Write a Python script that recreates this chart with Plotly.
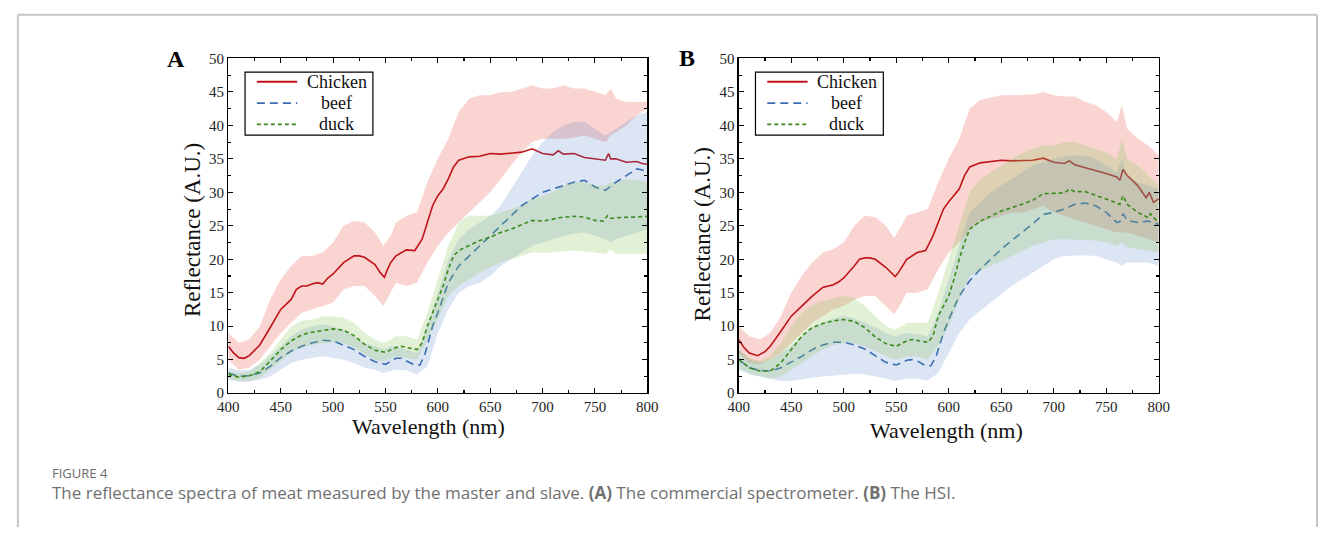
import plotly.graph_objects as go

W, H = 1330, 535

# ---------------- Panel A (commercial spectrometer) ----------------
A_chicken_wl = [400, 405, 410, 415, 420, 430, 440, 450, 460, 465, 470, 475, 480, 485, 490, 495, 500, 510, 520, 525, 530, 540, 545, 549, 552, 555, 560, 570, 578, 585, 590, 595, 600, 605, 610, 615, 620, 630, 640, 650, 660, 670, 680, 690, 700, 710, 715, 720, 730, 740, 750, 760, 763, 765, 770, 780, 790, 795, 800]
A_chicken = [7.0, 6.0, 5.3, 5.2, 5.6, 7.2, 9.8, 12.5, 14.0, 15.5, 16.0, 16.0, 16.3, 16.5, 16.3, 17.2, 17.8, 19.5, 20.5, 20.5, 20.3, 19.2, 18.0, 17.3, 18.5, 19.5, 20.5, 21.4, 21.3, 23.0, 25.5, 28.0, 29.5, 30.5, 32.0, 33.8, 34.8, 35.3, 35.4, 35.8, 35.7, 35.8, 36.0, 36.5, 35.8, 35.6, 36.2, 35.7, 35.8, 35.2, 35.0, 34.8, 35.8, 35.0, 35.0, 34.5, 34.6, 34.3, 34.2]

A_beef_wl = [400, 410, 420, 430, 440, 450, 460, 470, 480, 490, 500, 510, 520, 530, 540, 550, 560, 565, 570, 578, 583, 588, 595, 600, 610, 620, 630, 640, 650, 660, 670, 680, 690, 700, 710, 720, 730, 740, 750, 760, 770, 780, 790, 800]
A_beef = [3.0, 2.5, 2.6, 3.0, 4.0, 5.3, 6.3, 7.0, 7.5, 7.9, 7.8, 7.2, 6.5, 5.5, 4.7, 4.3, 5.2, 5.2, 4.8, 4.2, 4.2, 6.0, 10.0, 12.0, 16.5, 19.0, 20.5, 22.0, 23.5, 25.0, 26.5, 28.0, 29.0, 30.0, 30.5, 31.0, 31.5, 31.8, 30.8, 30.3, 31.5, 32.5, 33.5, 33.2]

A_duck_wl = [400, 410, 420, 430, 440, 450, 460, 470, 480, 490, 500, 510, 520, 530, 540, 550, 560, 565, 570, 580, 585, 590, 595, 600, 605, 610, 615, 620, 630, 640, 650, 660, 670, 680, 690, 700, 710, 720, 730, 740, 750, 758, 762, 765, 770, 780, 790, 800]
A_duck = [2.8, 2.4, 2.6, 3.2, 4.8, 6.5, 7.8, 8.7, 9.1, 9.4, 9.6, 9.4, 8.6, 7.3, 6.4, 6.1, 6.8, 7.0, 6.8, 6.5, 7.5, 10.0, 12.0, 14.0, 16.0, 18.5, 20.5, 21.3, 22.0, 22.8, 23.3, 24.0, 24.5, 25.2, 25.8, 25.7, 26.0, 26.3, 26.4, 26.3, 25.8, 25.7, 26.5, 26.1, 26.2, 26.3, 26.4, 26.4]

# wavelengths at which the band edges were read (shared by all bands)
band_wl = [400, 410, 420, 430, 440, 450, 460, 470, 480, 490, 500, 510, 520, 530, 540, 548, 555, 560, 570, 580, 590, 600, 610, 620, 630, 640, 650, 660, 670, 680, 690, 700, 710, 720, 730, 740, 750, 760, 765, 770, 780, 790, 800]

A_chicken_up = [9, 7.5, 8, 10, 14, 17, 19, 20.5, 20.5, 21, 22.5, 25, 25.7, 25.5, 24, 22, 23.5, 25.5, 26.5, 27, 31.5, 35, 38, 42, 44, 44.5, 44.5, 45, 45, 45.5, 46, 45.5, 45.5, 46, 45.5, 45.5, 45, 44.5, 45.5, 44, 43.5, 43.5, 43.5]
A_chicken_lo = [5, 3.5, 3.8, 5, 7, 9, 10.5, 12, 12.5, 13, 13.5, 15.5, 16, 16, 14.5, 13, 15, 16.5, 16, 16.5, 19.5, 22, 24, 25.5, 27, 28.5, 30, 32, 34, 36, 37.5, 38, 38, 38, 38.2, 38.5, 38, 37.5, 38.5, 39, 40, 41.5, 42.5]

A_beef_up = [3.8, 3.4, 3.5, 4.2, 5.5, 7, 8.5, 9.5, 10, 10.3, 10, 9.5, 8.5, 7.5, 7, 6.5, 7, 7, 6.5, 6, 10, 15, 20, 23, 24.5, 25.5, 26.5, 28, 30.5, 33, 35.5, 37.5, 39, 40, 40.5, 40.5, 39.5, 38.5, 39, 39.5, 40.5, 41.5, 42]
A_beef_lo = [2, 1.7, 1.7, 2, 2.5, 3.5, 4.5, 5, 5.3, 5.5, 5.3, 5, 4.5, 3.8, 3.5, 3, 3.3, 3.5, 3.4, 2.8, 4, 9, 12.5, 15, 16, 16.5, 17.5, 19, 20, 21, 22, 22.5, 23, 23.5, 23.8, 24, 23.5, 23, 22.5, 23, 23.5, 24, 24.5]

A_duck_up = [3.3, 3, 3.2, 4.5, 6, 8, 10, 10.8, 11, 11.5, 11.5, 11.3, 10.5, 9, 8, 7.5, 8, 8.5, 8.5, 8, 12, 17, 22, 25.5, 26.5, 26.5, 26.5, 27, 27.5, 28, 29, 29.5, 30, 31, 31.5, 31.5, 31, 31, 31.5, 31.5, 32, 31.8, 31.5]
A_duck_lo = [2.2, 1.8, 1.8, 2.3, 3.5, 4.8, 6, 6.8, 7.2, 7.5, 7.6, 7.4, 6.8, 5.8, 5, 4.8, 5.2, 5.5, 5.3, 5, 8, 11, 14.5, 16, 17, 18, 18.8, 19.5, 20, 20.5, 21, 21, 21, 21.2, 21.3, 21.2, 21, 20.8, 21.5, 20.8, 20.8, 20.8, 20.8]

# ---------------- Panel B (HSI) ----------------
B_chicken_wl = [400, 405, 410, 418, 425, 430, 440, 450, 460, 470, 480, 490, 495, 500, 510, 515, 520, 525, 530, 540, 549, 552, 560, 570, 578, 585, 590, 595, 600, 610, 615, 620, 630, 640, 650, 660, 670, 680, 690, 700, 710, 715, 720, 730, 740, 750, 760, 763, 766, 770, 780, 788, 791, 795, 800]
B_chicken = [8.0, 6.8, 6.0, 5.6, 6.2, 7.0, 9.2, 11.5, 13.0, 14.5, 15.8, 16.2, 16.6, 17.2, 19.0, 20.0, 20.2, 20.2, 20.0, 18.8, 17.4, 18.0, 20.0, 21.0, 21.3, 23.5, 25.5, 27.5, 28.6, 30.5, 32.5, 33.8, 34.4, 34.6, 34.8, 34.7, 34.8, 34.8, 35.1, 34.5, 34.3, 34.7, 34.1, 33.7, 33.2, 32.8, 32.3, 31.8, 33.4, 32.5, 31.0, 29.2, 30.0, 28.5, 29.0]

B_beef_wl = [400, 410, 420, 430, 440, 450, 460, 470, 480, 490, 500, 510, 520, 530, 540, 550, 560, 565, 570, 578, 583, 588, 595, 600, 610, 620, 630, 640, 650, 660, 670, 680, 690, 700, 710, 720, 730, 740, 750, 760, 763, 766, 770, 780, 790, 795, 800]
B_beef = [5.0, 3.8, 3.4, 3.3, 3.8, 4.6, 5.5, 6.5, 7.2, 7.6, 7.6, 7.2, 6.6, 5.6, 4.6, 4.2, 4.9, 5.0, 4.8, 4.1, 4.1, 5.5, 9.0, 11.0, 14.5, 16.8, 18.5, 20.0, 21.5, 22.8, 24.0, 25.3, 26.7, 27.0, 27.5, 28.2, 28.4, 28.0, 27.0, 25.5, 25.6, 26.8, 25.8, 25.5, 25.7, 25.5, 25.2]

B_duck_wl = [400, 410, 420, 430, 440, 450, 460, 470, 480, 490, 500, 510, 520, 530, 540, 550, 560, 565, 570, 580, 585, 590, 595, 600, 605, 610, 615, 620, 630, 640, 650, 660, 670, 680, 690, 700, 710, 715, 720, 730, 740, 750, 760, 763, 766, 770, 780, 790, 792, 800]
B_duck = [5.0, 3.8, 3.3, 3.3, 4.5, 6.5, 8.5, 9.8, 10.4, 10.8, 11.0, 10.7, 9.8, 8.4, 7.4, 7.0, 7.8, 8.0, 7.9, 7.6, 8.5, 11.5, 13.0, 14.5, 17.0, 20.0, 22.5, 24.5, 25.7, 26.5, 27.2, 27.7, 28.3, 28.8, 29.8, 29.9, 29.9, 30.5, 30.1, 30.1, 29.6, 29.0, 28.4, 28.2, 29.5, 28.2, 27.0, 26.2, 26.8, 25.4]

B_chicken_up = [10, 8.5, 8, 9, 11.5, 15, 17.5, 19.5, 21, 21.5, 22.5, 25, 26.5, 26.3, 25, 23.2, 25, 26.5, 27, 27.5, 31.5, 35, 38, 42.5, 43.8, 44.2, 44.5, 44.5, 44.6, 44.6, 45, 44.5, 44.3, 44.3, 43.5, 43, 42, 40.5, 43, 39.5, 38, 37, 35.5]
B_chicken_lo = [6, 4.5, 4.3, 5, 6, 7.5, 9, 10.5, 11.5, 12.5, 13, 14, 14.5, 14.5, 13, 11.8, 13.5, 15, 15, 15.5, 18.5, 21, 22.5, 24.5, 25.5, 26, 26.5, 27, 27, 27.5, 28, 27, 26.5, 26, 25.5, 25, 24.5, 24, 24, 24, 23.5, 23, 22.5]

B_beef_up = [6.5, 5, 4.5, 5, 6, 7, 8.5, 9.8, 10.5, 11.2, 11.5, 11.2, 10.5, 9.8, 9, 8.5, 8.8, 9, 8.8, 8.5, 12, 17, 22, 27, 28.5, 30, 31, 32, 33, 34, 34.5, 35, 35.3, 35.5, 35.5, 35, 34, 33, 35, 32.5, 31.5, 31, 30.5]
B_beef_lo = [3.5, 2.8, 2.5, 2.2, 1.8, 1.8, 2, 2.3, 2.5, 2.7, 2.8, 2.9, 2.8, 2.5, 2.2, 1.8, 2, 2.2, 2.2, 1.9, 3, 6, 9, 11, 12.3, 13.5, 14.8, 16, 17, 18, 19, 20, 20.5, 20.5, 20.6, 20.5, 20, 19.5, 19, 19.5, 19.5, 19.5, 19]

B_duck_up = [6.5, 5.3, 4.8, 5.5, 7.5, 10, 12, 13.2, 13.8, 14.2, 14.5, 14.2, 13, 11.5, 10, 9.5, 10, 10.5, 10.5, 10.5, 15, 20, 25, 30, 32, 33, 34, 35, 35.8, 36.5, 37, 37, 37.5, 37.5, 37, 36.5, 36, 35, 38, 35, 34, 32.5, 31]
B_duck_lo = [3.8, 3, 2.5, 2.2, 2.5, 3.5, 4.5, 5.5, 6.5, 7.2, 7.5, 7.4, 7, 6.3, 5.5, 5, 5.2, 5.5, 5.5, 5, 7, 10, 14, 17.5, 18.3, 19, 19.8, 20.5, 21.2, 22, 22.5, 23, 23, 23, 22.9, 22.8, 22.5, 22, 22.5, 21.8, 21.5, 21.2, 21]

series_names = ["Chicken", "beef", "duck"]
line_colors = ["#c0141c", "#3a6cb4", "#3b8a1c"]
band_colors = ["rgba(238,112,100,0.30)", "rgba(80,125,200,0.20)", "rgba(140,200,90,0.25)"]
dashes = ["solid", "8px,5px", "4px,3px"]

SERIF = "Liberation Serif, Times New Roman, serif"


def px_x(p):
    return p / W


def px_y(p):
    return 1 - p / H


fig = go.Figure()

panels = [
    ("x", "y",
     [(A_chicken_wl, A_chicken, A_chicken_up, A_chicken_lo),
      (A_beef_wl, A_beef, A_beef_up, A_beef_lo),
      (A_duck_wl, A_duck, A_duck_up, A_duck_lo)]),
    ("x2", "y2",
     [(B_chicken_wl, B_chicken, B_chicken_up, B_chicken_lo),
      (B_beef_wl, B_beef, B_beef_up, B_beef_lo),
      (B_duck_wl, B_duck, B_duck_up, B_duck_lo)]),
]

for xa, ya, data in panels:
    for i, (wl, mean, up, lo) in enumerate(data):
        fig.add_trace(go.Scatter(
            x=band_wl + band_wl[::-1], y=up + lo[::-1],
            fill="toself", fillcolor=band_colors[i], line=dict(width=0),
            mode="lines", showlegend=False, hoverinfo="skip",
            xaxis=xa, yaxis=ya))
        fig.add_trace(go.Scatter(
            x=wl, y=mean, mode="lines", name=series_names[i],
            line=dict(color=line_colors[i], width=1.6, dash=dashes[i]),
            showlegend=False, xaxis=xa, yaxis=ya))

ydom = [px_y(397), px_y(52)]
axis_common = dict(
    showline=True, linecolor="black", linewidth=1.3, mirror="ticks",
    ticks="inside", ticklen=5, tickwidth=1.1, tickcolor="black",
    showgrid=False, zeroline=False,
    tickfont=dict(family=SERIF, size=15, color="#222"),
)
xcommon = dict(axis_common, range=[400, 800], dtick=50, tick0=400,
               minor=dict(ticks="inside", ticklen=3, dtick=25, tickcolor="black", showgrid=False))
ycommon = dict(axis_common, range=[0, 50], dtick=5, tick0=0,
               minor=dict(ticks="inside", ticklen=3, dtick=2.5, tickcolor="black", showgrid=False))

annotations = [
    dict(text="<b>A</b>", x=px_x(168), y=px_y(53), font=dict(family=SERIF, size=24, color="black")),
    dict(text="<b>B</b>", x=px_x(687), y=px_y(52), font=dict(family=SERIF, size=24, color="black")),
    dict(text="Wavelength (nm)", x=px_x(425), y=px_y(431), font=dict(family=SERIF, size=22, color="#111")),
    dict(text="Wavelength (nm)", x=px_x(951), y=px_y(436), font=dict(family=SERIF, size=22, color="#111")),
    dict(text="Reflectance (A.U.)", x=px_x(184), y=px_y(229), textangle=-90, font=dict(family=SERIF, size=23, color="#111")),
    dict(text="Reflectance (A.U.)", x=px_x(703), y=px_y(233), textangle=-90, font=dict(family=SERIF, size=23, color="#111")),
    dict(text="FIGURE 4", x=px_x(40), y=px_y(479), xanchor="left",
         font=dict(family="Open Sans", size=13, color="#6a6a6a")),
    dict(text="The reflectance spectra of meat measured by the master and slave. <b>(A)</b> The commercial spectrometer. <b>(B)</b> The HSI.",
         x=px_x(40), y=px_y(499), xanchor="left",
         font=dict(family="Open Sans", size=17, color="#707070")),
]

shapes = []

# legend boxes drawn for each panel (A at x0=238, B shifted by the panel offset)
legend_rows_y = [76, 98, 120]
for dx in (0, 519):
    shapes.append(dict(type="rect", xref="paper", yref="paper",
                       x0=px_x(238 + dx), x1=px_x(368 + dx), y0=px_y(131), y1=px_y(66),
                       line=dict(color="black", width=1.2), fillcolor="white", layer="above"))
    for i, name in enumerate(series_names):
        yy = legend_rows_y[i]
        shapes.append(dict(type="line", xref="paper", yref="paper",
                           x0=px_x(250 + dx), x1=px_x(291 + dx), y0=px_y(yy), y1=px_y(yy),
                           line=dict(color=line_colors[i], width=1.8, dash=dashes[i]), layer="above"))
        annotations.append(dict(text=name, x=px_x(331 + dx), y=px_y(yy),
                                font=dict(family=SERIF, size=18, color="#111")))

for a in annotations:
    a.update(xref="paper", yref="paper", showarrow=False)
    a.setdefault("xanchor", "center")
    a.setdefault("yanchor", "middle")

frame_col = "#c6c6c6"
shapes += [
    dict(type="line", xref="paper", yref="paper", x0=px_x(7), x1=px_x(7), y0=px_y(7), y1=0,
         line=dict(color=frame_col, width=2)),
    dict(type="line", xref="paper", yref="paper", x0=px_x(7), x1=px_x(1328), y0=px_y(7), y1=px_y(7),
         line=dict(color=frame_col, width=2)),
    dict(type="line", xref="paper", yref="paper", x0=px_x(1328), x1=px_x(1328), y0=px_y(7), y1=0,
         line=dict(color=frame_col, width=2)),
]

fig.update_layout(
    width=W, height=H,
    margin=dict(l=0, r=0, t=0, b=0),
    paper_bgcolor="white", plot_bgcolor="white",
    showlegend=False,
    xaxis=dict(xcommon, domain=[px_x(221), px_x(647)], anchor="y"),
    yaxis=dict(ycommon, domain=ydom, anchor="x"),
    xaxis2=dict(xcommon, domain=[px_x(740), px_x(1167)], anchor="y2"),
    yaxis2=dict(ycommon, domain=ydom, anchor="x2"),
    annotations=annotations,
    shapes=shapes,
)

# remove the default page margin so the figure sits at the window origin; hide the mode bar
fig.write_html("out.html",
               config={"displayModeBar": False, "staticPlot": True},
               post_script="document.body.style.margin='0';document.body.style.overflow='hidden';")
